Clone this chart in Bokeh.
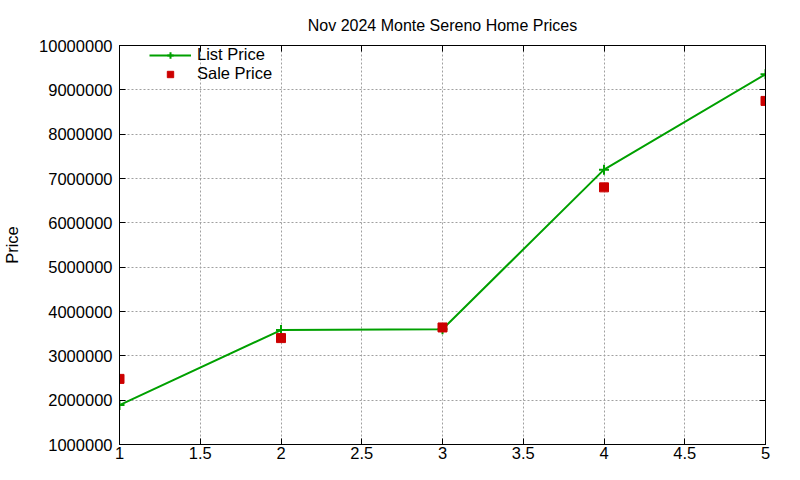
from bokeh.plotting import figure
from bokeh.models import (LinearAxis, FixedTicker, CustomJSTickFormatter, Legend,
                          LegendItem, Range1d, BasicTickFormatter)
from bokeh.embed import file_html
from bokeh.resources import INLINE

# data
months = [1, 2, 3, 4, 5]
list_price = [1890000, 3580000, 3600000, 7200000, 9350000]
sale_price = [2480000, 3400000, 3640000, 6800000, 8750000]
x_ticks = [1, 1.5, 2, 2.5, 3, 3.5, 4, 4.5, 5]
y_ticks = [1000000 * i for i in range(1, 11)]

FONT = "Liberation Sans"
GREEN = "#00a000"
RED = "#cc0000"


def style_axis(ax, ticks, show_labels=True):
    ax.ticker = FixedTicker(ticks=ticks)
    ax.axis_line_color = "black"
    ax.major_tick_in = 6
    ax.major_tick_out = 0
    ax.minor_tick_line_color = None
    ax.major_tick_line_color = "black"
    ax.major_label_text_font = FONT
    ax.major_label_text_color = "black"
    if show_labels:
        ax.major_label_text_font_size = "16.5px"
    else:
        ax.major_label_text_font_size = "0px"
        ax.major_label_standoff = 0


def main():
    p = figure(width=784, height=464, output_backend="svg", toolbar_location=None,
               x_range=Range1d(1, 5), y_range=Range1d(1000000, 10000000),
               min_border_left=119, min_border_right=19,
               min_border_top=45, min_border_bottom=20)

    p.title.text = "Nov 2024 Monte Sereno Home Prices"
    p.title.align = "center"
    p.title.text_font = FONT
    p.title.text_font_size = "16px"
    p.title.text_font_style = "normal"
    p.title.text_color = "black"
    p.title.standoff = 23

    p.outline_line_color = "black"
    p.background_fill_color = "white"
    p.border_fill_color = "white"

    style_axis(p.xaxis[0], x_ticks)
    p.xaxis[0].formatter = CustomJSTickFormatter(code="return tick.toString()")
    p.xaxis[0].major_label_standoff = 2

    style_axis(p.yaxis[0], y_ticks)
    p.yaxis[0].formatter = BasicTickFormatter(use_scientific=False)
    p.yaxis[0].major_label_standoff = 7
    p.yaxis[0].axis_label = "Price"
    p.yaxis[0].axis_label_text_font = FONT
    p.yaxis[0].axis_label_text_font_size = "16.5px"
    p.yaxis[0].axis_label_text_font_style = "normal"
    p.yaxis[0].axis_label_text_color = "black"
    p.yaxis[0].axis_label_standoff = 15

    top = LinearAxis()
    style_axis(top, x_ticks, show_labels=False)
    p.add_layout(top, "above")
    right = LinearAxis()
    style_axis(right, y_ticks, show_labels=False)
    p.add_layout(right, "right")

    for g in (p.xgrid[0], p.ygrid[0]):
        g.grid_line_color = "#a0a0a0"
        g.grid_line_dash = "2 2"
        g.grid_line_width = 1
    p.xgrid[0].ticker = FixedTicker(ticks=x_ticks)
    p.ygrid[0].ticker = FixedTicker(ticks=y_ticks)

    ln = p.line(months, list_price, line_color=GREEN, line_width=2)
    pts = p.scatter(months, list_price, marker="cross", size=10,
                    line_color=GREEN, line_width=2)
    sq = p.scatter(months, sale_price, marker="square", size=9,
                   fill_color=RED, line_color=RED)

    legend = Legend(items=[LegendItem(label="List Price", renderers=[ln, pts]),
                           LegendItem(label="Sale Price", renderers=[sq])],
                    location=(30, 361), border_line_color=None,
                    background_fill_alpha=0, padding=0, spacing=0,
                    glyph_width=42, glyph_height=16, label_height=16,
                    label_standoff=6, label_text_color="black",
                    label_text_font=FONT, label_text_font_size="16.5px")
    p.add_layout(legend)

    open("out.html", "w").write(file_html(p, INLINE))


if __name__ == "__main__":
    main()
